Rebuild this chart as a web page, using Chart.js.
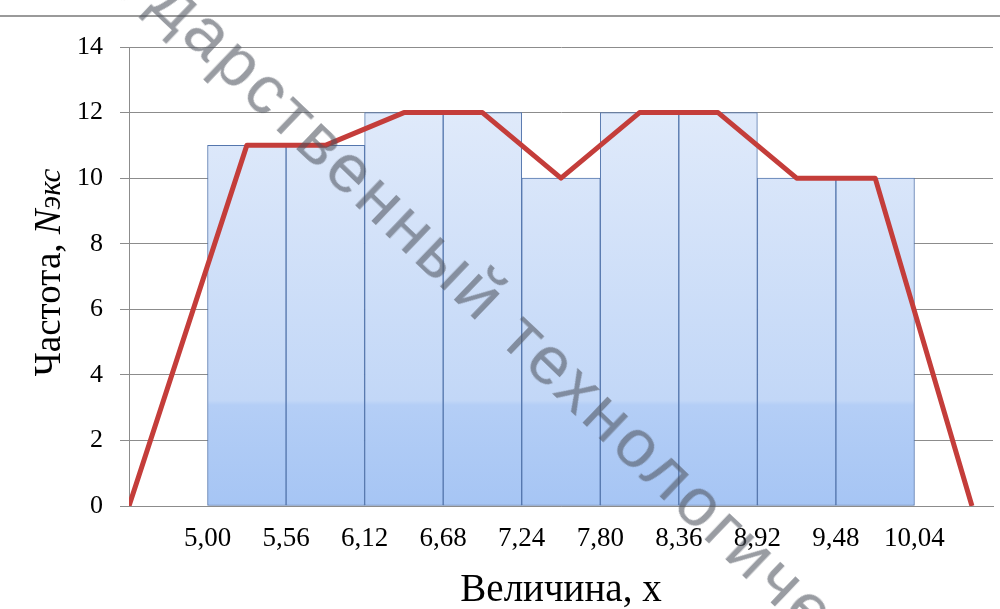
<!DOCTYPE html>
<html>
<head>
<meta charset="utf-8">
<script src="https://cdn.jsdelivr.net/npm/chart.js@4.4.1/dist/chart.umd.min.js"></script>
<style>
  html, body { margin: 0; padding: 0; background: #fff; overflow: hidden; }
  #wrap { position: relative; width: 1000px; height: 609px; overflow: hidden; }
  #topline { position: absolute; left: 0; top: 15px; width: 1000px; height: 2px; background: #9a9a9a; }
  #wm {
    position: absolute; left: 84px; top: -134px;
    transform-origin: 0 0; transform: rotate(43.7deg);
    font: 69px "Liberation Sans", Arial, sans-serif;
    letter-spacing: 3.6px;
    color: rgba(80, 85, 95, 0.58);
    white-space: nowrap; line-height: 1; pointer-events: none;
  }
</style>
</head>
<body>
<div id="wrap">
  <div id="topline"></div>
  <canvas id="chart" width="1000" height="609"></canvas>
  <div id="wm">государственный технологический университет</div>
</div>
<script>
  // histogram bins (edges are the x tick positions)
  const binEdges = [5.00, 5.56, 6.12, 6.68, 7.24, 7.80, 8.36, 8.92, 9.48, 10.04];
  const xTickLabels = ['5,00', '5,56', '6,12', '6,68', '7,24', '7,80', '8,36', '8,92', '9,48', '10,04'];
  const binCenters = [5.28, 5.84, 6.40, 6.96, 7.52, 8.08, 8.64, 9.20, 9.76];
  const frequency = [11, 11, 12, 12, 10, 12, 12, 10, 10];

  // frequency polygon
  const polygonX = [4.44, 5.28, 5.84, 6.40, 6.96, 7.52, 8.08, 8.64, 9.20, 9.76, 10.45];
  const polygonY = [0, 11, 11, 12, 12, 10, 12, 12, 10, 10, 0];

  const yTicks = [0, 2, 4, 6, 8, 10, 12, 14];

  const serif = '"Liberation Serif", "Times New Roman", serif';
  const gridColor = '#8c8c8c';

  function barFill(ctx) {
    const area = ctx.chart.chartArea;
    if (!area) return '#c4d9f7';
    const g = ctx.chart.ctx.createLinearGradient(0, area.top, 0, area.bottom);
    g.addColorStop(0, '#e6eefb');
    g.addColorStop(0.77, '#c2d7f7');
    g.addColorStop(0.78, '#b4cef6');
    g.addColorStop(1, '#a6c5f4');
    return g;
  }

  const axisTitles = {
    id: 'axisTitles',
    afterDraw(chart) {
      const c = chart.ctx;
      const a = chart.chartArea;
      c.save();
      c.fillStyle = '#000';
      c.textBaseline = 'alphabetic';

      c.font = '39px ' + serif;
      c.textAlign = 'center';
      c.fillText('Величина, x', (a.left + a.right) / 2, chart.height - 8);

      c.translate(60, (a.top + a.bottom) / 2 - 4);
      c.rotate(-Math.PI / 2);
      c.textAlign = 'left';
      const parts = [
        ['Частота, ', '37px ' + serif],
        ['N', 'italic 37px ' + serif],
        ['экс', 'italic 31px ' + serif]
      ];
      let total = 0;
      parts.forEach(p => { c.font = p[1]; total += c.measureText(p[0]).width; });
      let x = -total / 2;
      parts.forEach(p => {
        c.font = p[1];
        c.fillText(p[0], x, 0);
        x += c.measureText(p[0]).width;
      });
      c.restore();
    }
  };

  new Chart(document.getElementById('chart'), {
    data: {
      datasets: [{
        type: 'line',
        order: 0,
        data: polygonX.map((x, i) => ({ x: x, y: polygonY[i] })),
        borderColor: '#c43d3a',
        borderWidth: 5,
        borderJoinStyle: 'round',
        pointRadius: 0,
        tension: 0
      }, {
        type: 'bar',
        order: 1,
        data: binCenters.map((x, i) => ({ x: x, y: frequency[i] })),
        backgroundColor: barFill,
        borderColor: '#5476ad',
        borderWidth: 1,
        borderSkipped: false,
        barPercentage: 1,
        categoryPercentage: 1
      }]
    },
    options: {
      responsive: false,
      animation: false,
      layout: { padding: { top: 47, right: 7, left: 0, bottom: 0 } },
      plugins: { legend: { display: false }, tooltip: { enabled: false } },
      scales: {
        x: {
          type: 'linear',
          offset: false,
          min: 4.44,
          max: 10.60,
          afterBuildTicks: scale => { scale.ticks = binEdges.map(v => ({ value: v })); },
          afterFit: scale => { scale.height = 103; },
          ticks: {
            autoSkip: false,
            maxRotation: 0,
            padding: 17,
            color: '#000',
            font: { family: serif, size: 27 },
            callback: (v, i) => xTickLabels[i]
          },
          grid: { display: false, drawTicks: false },
          border: { display: true, color: gridColor, width: 1 }
        },
        y: {
          min: 0,
          max: 14,
          afterBuildTicks: scale => { scale.ticks = yTicks.map(v => ({ value: v })); },
          afterFit: scale => { scale.width = 129; },
          ticks: {
            padding: 17,
            color: '#000',
            font: { family: serif, size: 26 }
          },
          grid: { color: gridColor, lineWidth: 1, tickLength: 9 },
          border: { display: true, color: gridColor, width: 1 }
        }
      }
    },
    plugins: [axisTitles]
  });
</script>
</body>
</html>
